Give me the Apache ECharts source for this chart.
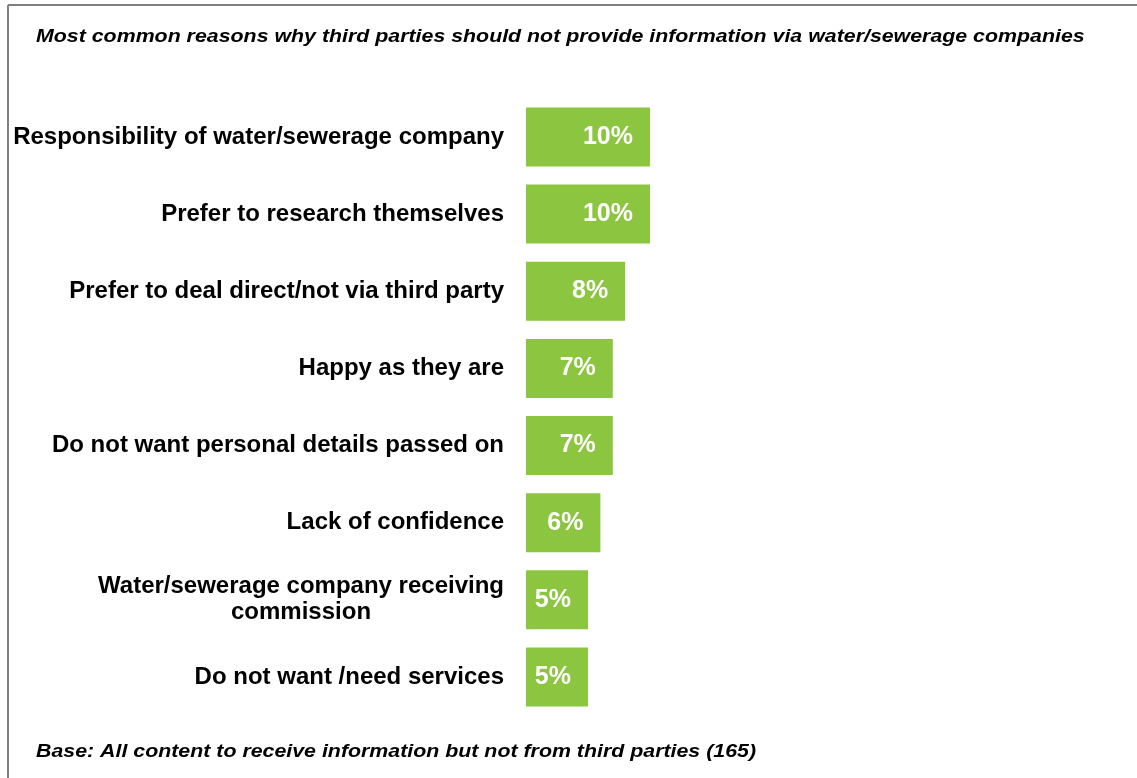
<!DOCTYPE html>
<html>
<head>
<meta charset="utf-8">
<script src="https://cdn.jsdelivr.net/npm/echarts@6/dist/echarts.min.js"></script>
<style>
  html, body { margin: 0; padding: 0; background: #ffffff; }
  #chart { width: 1137px; height: 778px; }
</style>
</head>
<body>
<div id="chart"></div>
<script>
// Reasons, top to bottom
const categories = [
  'Responsibility of water/sewerage company',
  'Prefer to research themselves',
  'Prefer to deal direct/not via third party',
  'Happy as they are',
  'Do not want personal details passed on',
  'Lack of confidence',
  'Water/sewerage company receiving\ncommission',
  'Do not want /need services'
];
// Share of respondents (%)
const values = [10, 10, 8, 7, 7, 6, 5, 5];

const titleText = 'Most common reasons why third parties should not provide information via water/sewerage companies';
const baseText = 'Base: All content to receive information but not from third parties (165)';

const FONT = '"Liberation Sans", Arial, sans-serif';
const LABEL_SIZE = 24;
const chart = echarts.init(document.getElementById('chart'), null, { renderer: 'canvas' });

chart.setOption({
  animation: false,
  backgroundColor: '#ffffff',
  grid: { left: 526, top: 98.4, height: 617.1, width: 496, containLabel: false },
  xAxis: {
    type: 'value', min: 0, max: 40,
    show: false
  },
  yAxis: {
    type: 'category',
    inverse: true,
    data: categories,
    axisLine: { show: false },
    axisTick: { show: false },
    splitLine: { show: false },
    axisLabel: {
      margin: 22,
      fontFamily: FONT,
      fontWeight: 'bold',
      fontSize: LABEL_SIZE,
      color: '#000000',
      lineHeight: 26,
      formatter: function (v) {
        // multi-line labels are centred line by line
        return v.split('\n').map(function (l) { return '{c|' + l + '}'; }).join('\n');
      },
      rich: {
        c: { align: 'center', fontFamily: FONT, fontWeight: 'bold', fontSize: LABEL_SIZE, color: '#000000', lineHeight: 26 }
      }
    }
  },
  series: [{
    type: 'bar',
    data: values,
    barCategoryGap: '23.5%',
    itemStyle: { color: '#8cc540' },
    label: {
      show: true,
      position: 'insideRight',
      distance: 17,
      formatter: '{c}%',
      color: '#ffffff',
      fontFamily: FONT,
      fontWeight: 'bold',
      fontSize: 25
    }
  }],
  graphic: [
    { type: 'line', shape: { x1: 8, y1: 5, x2: 1137, y2: 5 }, style: { stroke: '#808080', lineWidth: 2 } },
    { type: 'line', shape: { x1: 8, y1: 5, x2: 8, y2: 778 }, style: { stroke: '#808080', lineWidth: 2 } },
    {
      type: 'text', x: 36, y: 37, scaleX: 1.186,
      style: { text: titleText, font: 'italic bold 18px ' + FONT, fill: '#000000', verticalAlign: 'middle' }
    },
    {
      type: 'text', x: 36, y: 752, scaleX: 1.186,
      style: { text: baseText, font: 'italic bold 18px ' + FONT, fill: '#000000', verticalAlign: 'middle' }
    }
  ]
});
</script>
</body>
</html>
